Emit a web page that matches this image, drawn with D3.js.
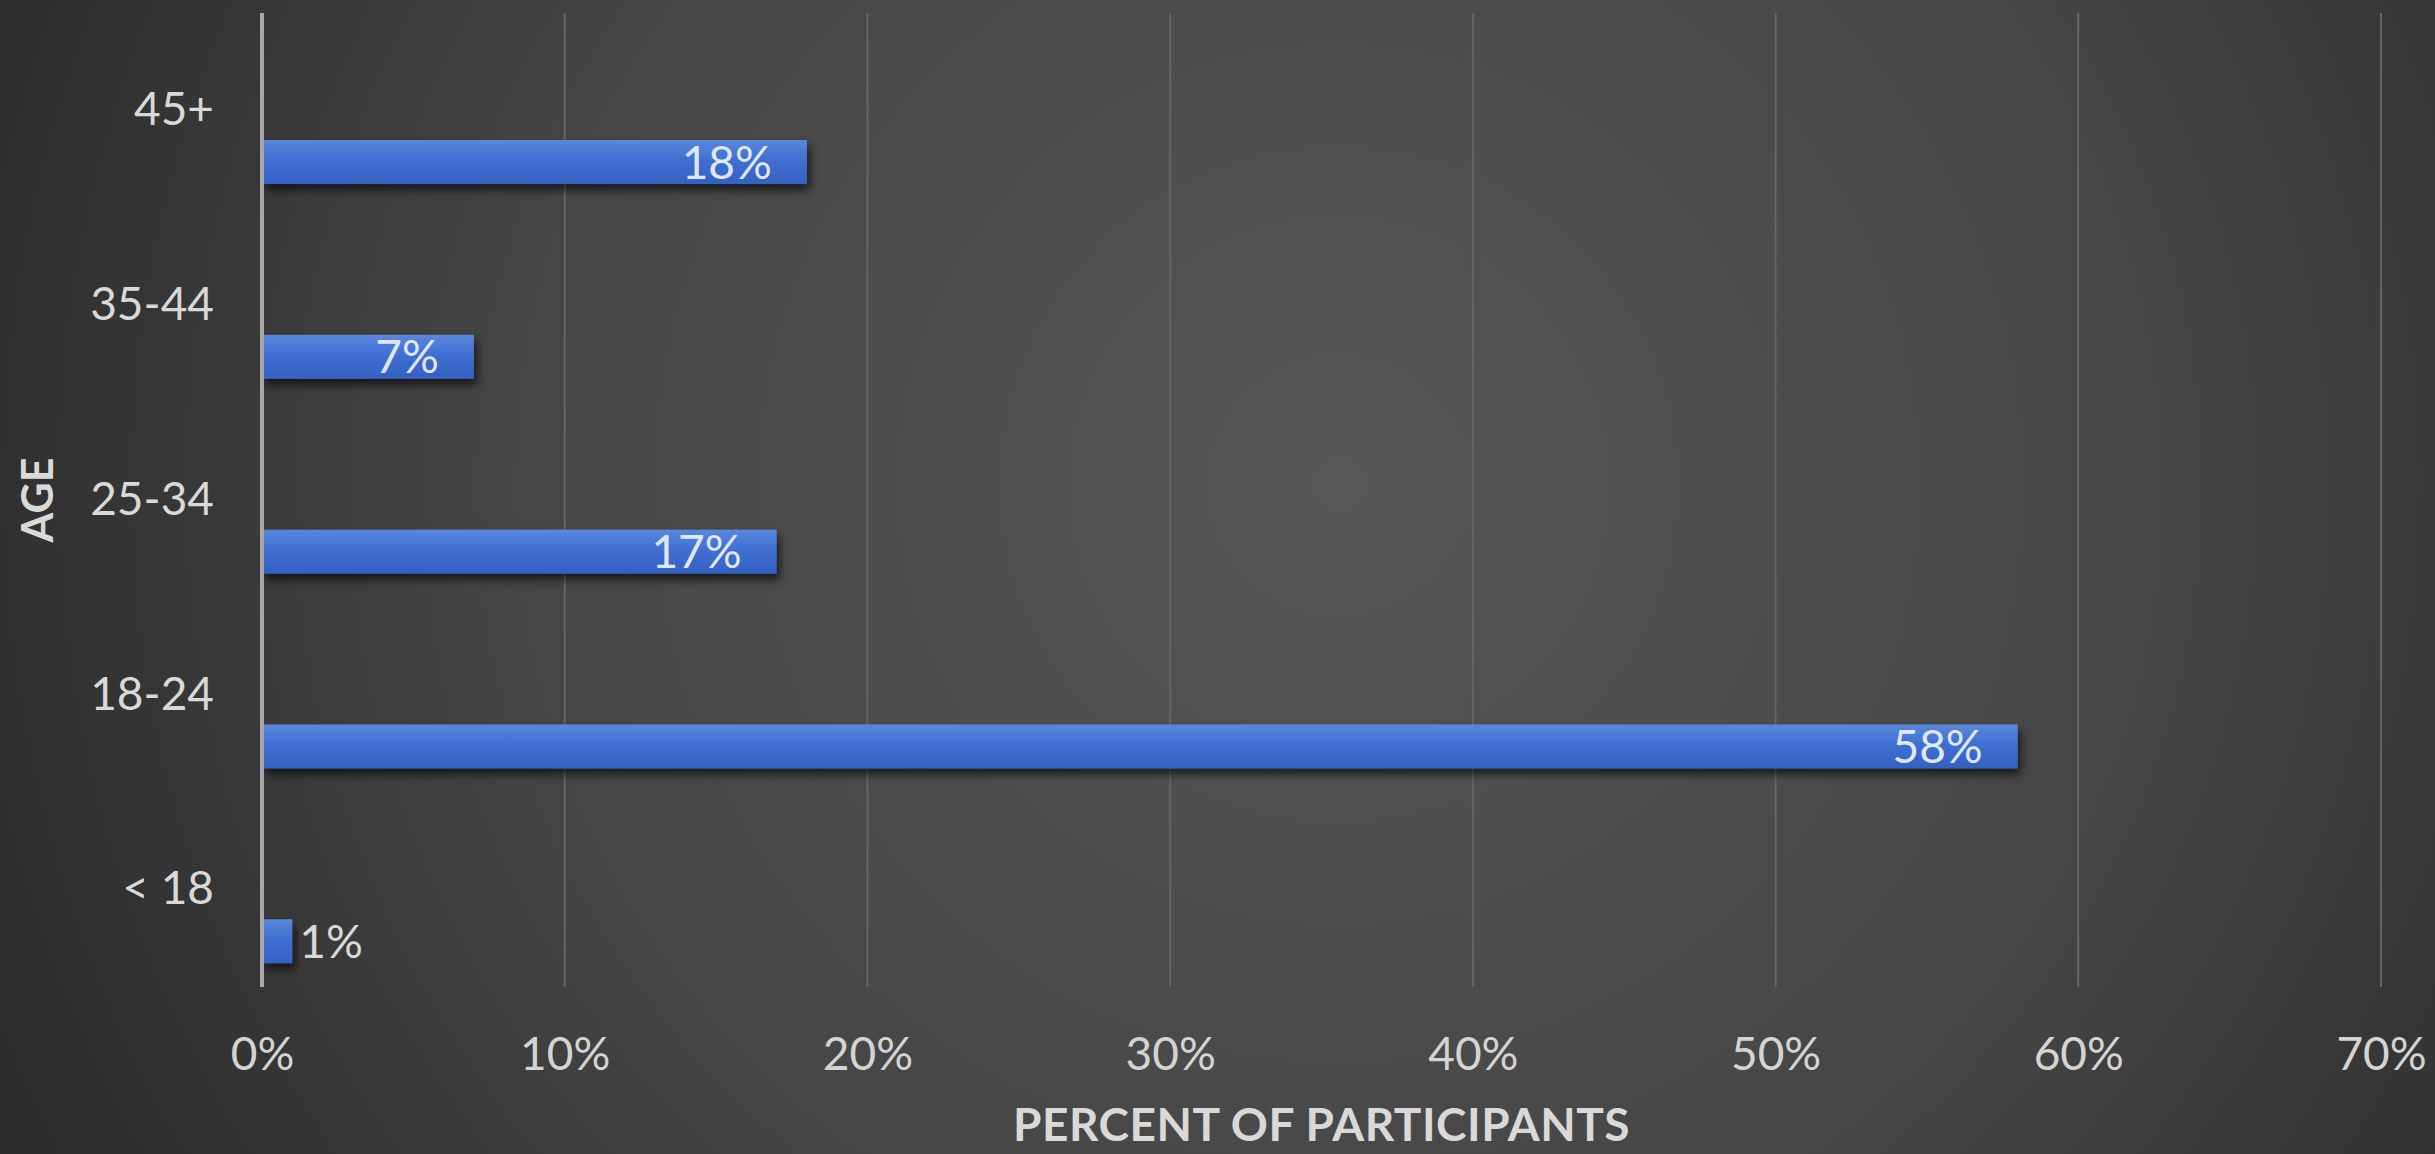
<!DOCTYPE html>
<html>
<head>
<meta charset="utf-8">
<script src="https://cdn.jsdelivr.net/npm/d3@7"></script>
<style>
    body { margin: 0; background: #333; }
    svg { display: block; }
    text { font-family: Lato, "Open Sans", sans-serif; }
</style>
</head>
<body>
<svg id="chart"></svg>
<script>
// chart data, top row first
const ageGroups = ['45+', '35-44', '25-34', '18-24', '< 18'];
const participantShare = [0.18, 0.07, 0.17, 0.58, 0.01];
const percentTicks = [0, 0.1, 0.2, 0.3, 0.4, 0.5, 0.6, 0.7];
const xTitle = 'PERCENT OF PARTICIPANTS';
const yTitle = 'AGE';

const width = 2435;
const height = 1154;
const margin = { top: 13, right: 54, bottom: 167, left: 262 };

let svg = d3.select('#chart')
    .attr('width', width)
    .attr('height', height);

let defs = svg.append('defs');

// background: soft light spot in the middle, darker to the edges
let bg = defs.append('radialGradient')
    .attr('id', 'bg')
    .attr('cx', '0.55').attr('cy', '0.42')
    .attr('r', '0.62')
    .attr('gradientTransform', 'translate(0.55,0.42) scale(1,2.1) translate(-0.55,-0.42)');
bg.append('stop').attr('offset', '0%').attr('stop-color', '#575757');
bg.append('stop').attr('offset', '55%').attr('stop-color', '#454545');
bg.append('stop').attr('offset', '100%').attr('stop-color', '#292929');

let barFill = defs.append('linearGradient')
    .attr('id', 'barFill')
    .attr('x1', 0).attr('y1', 0).attr('x2', 0).attr('y2', 1);
barFill.append('stop').attr('offset', '0%').attr('stop-color', '#5b88dc');
barFill.append('stop').attr('offset', '45%').attr('stop-color', '#3f6fd1');
barFill.append('stop').attr('offset', '100%').attr('stop-color', '#3461c2');

let shadow = defs.append('filter')
    .attr('id', 'shadow')
    .attr('x', '-10%').attr('y', '-30%')
    .attr('width', '130%').attr('height', '190%');
shadow.append('feDropShadow')
    .attr('dx', 3).attr('dy', 6)
    .attr('stdDeviation', 5)
    .attr('flood-color', '#000')
    .attr('flood-opacity', 0.65);

svg.append('rect')
    .attr('width', width)
    .attr('height', height)
    .attr('fill', 'url(#bg)');

let x = d3.scaleLinear()
    .domain([0, 0.7])
    .range([margin.left, width - margin.right]);

let y = d3.scaleBand()
    .domain(ageGroups)
    .range([margin.top, height - margin.bottom]);

// second (empty) series slot sits above the visible bar, like the original clustered bar
let slot = d3.scaleBand()
    .domain(['blank', 'share'])
    .range([0, y.bandwidth()])
    .paddingInner(0.574)
    .paddingOuter(0.23);

// vertical gridlines
svg.append('g')
    .selectAll('line')
    .data(percentTicks.slice(1))
    .join('line')
    .attr('x1', d => x(d))
    .attr('x2', d => x(d))
    .attr('y1', margin.top)
    .attr('y2', height - margin.bottom)
    .attr('stroke', '#656565')
    .attr('stroke-width', 2);

// x tick labels
let xAxis = svg.append('g')
    .attr('transform', `translate(0,${height - margin.bottom})`)
    .call(d3.axisBottom(x)
        .tickValues(percentTicks)
        .tickFormat(d3.format('.0%'))
        .tickSize(0));
xAxis.select('.domain').remove();
xAxis.selectAll('text')
    .attr('y', 83)
    .attr('dy', null)
    .attr('fill', '#d4d4d4')
    .attr('font-size', 46);

// category labels
let yAxis = svg.append('g')
    .attr('transform', `translate(${margin.left},0)`)
    .call(d3.axisLeft(y)
        .tickSize(0)
        .tickPadding(48));
yAxis.select('.domain').remove();
yAxis.selectAll('text')
    .attr('fill', '#d9d9d9')
    .attr('font-size', 46);

let rows = ageGroups.map((g, i) => ({ group: g, value: participantShare[i] }));

// bars
svg.append('g')
    .selectAll('rect')
    .data(rows)
    .join('rect')
    .attr('x', x(0))
    .attr('y', d => y(d.group) + slot('share'))
    .attr('width', d => x(d.value) - x(0))
    .attr('height', slot.bandwidth())
    .attr('fill', 'url(#barFill)')
    .attr('filter', 'url(#shadow)');

// value axis line, drawn over the bar starts
svg.append('line')
    .attr('x1', x(0)).attr('x2', x(0))
    .attr('y1', margin.top)
    .attr('y2', height - margin.bottom)
    .attr('stroke', '#a8a8a8')
    .attr('stroke-width', 4);

// value labels: inside end when they fit, just outside otherwise
svg.append('g')
    .selectAll('text')
    .data(rows)
    .join('text')
    .text(d => d3.format('.0%')(d.value))
    .attr('x', d => x(d.value) - x(0) > 120 ? x(d.value) - 35 : x(d.value) + 7)
    .attr('y', d => y(d.group) + slot('share') + slot.bandwidth() / 2)
    .attr('dy', '0.36em')
    .attr('text-anchor', d => x(d.value) - x(0) > 120 ? 'end' : 'start')
    .attr('fill', d => x(d.value) - x(0) > 120 ? '#dfe7f6' : '#d9d9d9')
    .attr('font-size', 46);

// axis titles
svg.append('text')
    .text(xTitle)
    .attr('x', (x.range()[0] + x.range()[1]) / 2)
    .attr('y', 1141)
    .attr('text-anchor', 'middle')
    .attr('fill', '#d9d9d9')
    .attr('font-size', 46)
    .attr('letter-spacing', 0.5)
    .attr('font-weight', 'bold');

svg.append('text')
    .text(yTitle)
    .attr('transform', `translate(53,${(margin.top + height - margin.bottom) / 2}) rotate(-90)`)
    .attr('text-anchor', 'middle')
    .attr('fill', '#d9d9d9')
    .attr('font-size', 43)
    .attr('font-weight', 'bold');
</script>
</body>
</html>
